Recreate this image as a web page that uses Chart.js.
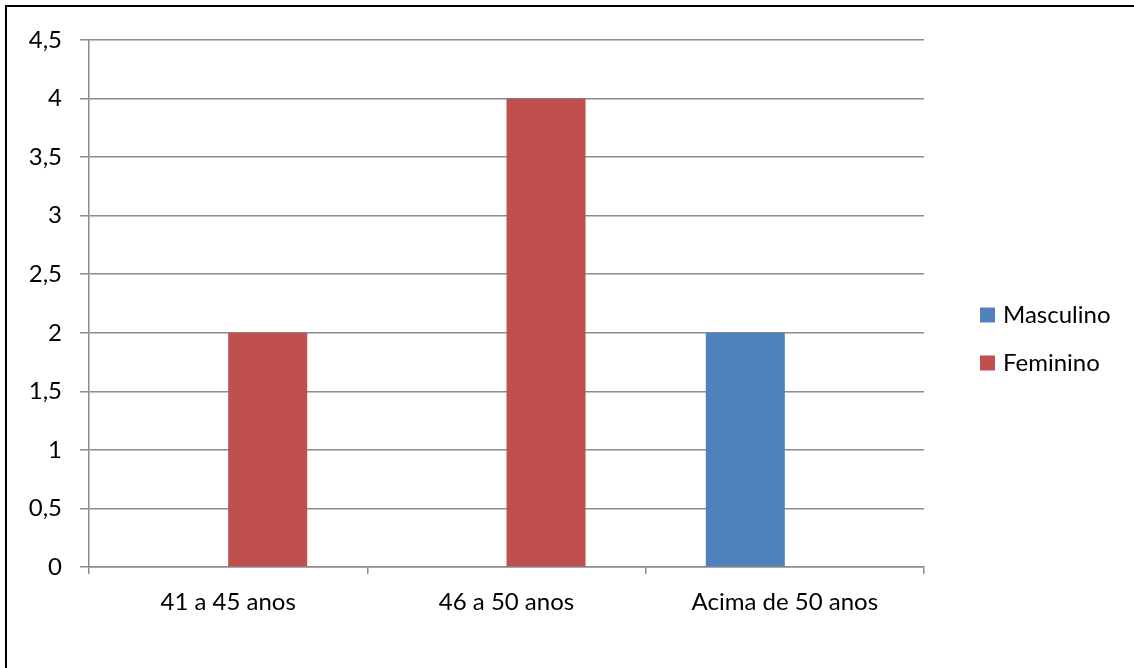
<!DOCTYPE html>
<html>
<head>
<meta charset="utf-8">
<script src="https://cdn.jsdelivr.net/npm/chart.js@4/dist/chart.umd.min.js"></script>
<style>
  html, body { margin: 0; padding: 0; background: #fff; }
  #wrap { position: relative; width: 1134px; height: 668px; overflow: hidden; }
  #frame { position: absolute; left: 5px; top: 5px; width: 1200px; height: 800px;
           border-left: 2px solid #000; border-top: 2px solid #000; }
  canvas { position: absolute; left: 0; top: 0; }
</style>
</head>
<body>
<div id="wrap">
  <div id="frame"></div>
  <canvas id="chart" width="1134" height="668"></canvas>
</div>
<script>
// Data
const categories = ['41 a 45 anos', '46 a 50 anos', 'Acima de 50 anos'];
const masculino = [0, 0, 2];
const feminino = [2, 4, 0];
const yTicks = ['0', '0,5', '1', '1,5', '2', '2,5', '3', '3,5', '4', '4,5'];

const FONT = 'Lato, "Open Sans", sans-serif';
const gridColor = '#8c8c8c';

// Legend drawn at the right, like the original
const sideLegend = {
    id: 'sideLegend',
    afterDraw(chart) {
        const ctx = chart.ctx;
        const items = chart.data.datasets;
        ctx.save();
        ctx.font = '24px ' + FONT;
        ctx.textBaseline = 'middle';
        ctx.textAlign = 'left';
        items.forEach((ds, i) => {
            const y = 315 + i * 48;
            ctx.fillStyle = ds.backgroundColor;
            ctx.fillRect(980, y - 7.5, 15, 15);
            ctx.fillStyle = '#000';
            ctx.fillText(ds.label, 1003, y);
        });
        ctx.restore();
    }
};

const ctx = document.getElementById('chart').getContext('2d');
const chart = new Chart(ctx, {
    type: 'bar',
    data: {
        labels: categories,
        datasets: [{
            label: 'Masculino',
            data: masculino,
            backgroundColor: '#4f81bd'
        }, {
            label: 'Feminino',
            data: feminino,
            backgroundColor: '#c0504d'
        }]
    },
    options: {
        responsive: false,
        animation: false,
        layout: { padding: { top: 40, right: 210, bottom: 0, left: 0 } },
        datasets: {
            bar: { categoryPercentage: 0.568, barPercentage: 1.0 }
        },
        plugins: {
            legend: { display: false },
            tooltip: { enabled: false }
        },
        scales: {
            x: {
                offset: true,
                afterFit: s => { s.height = 101; },
                grid: {
                    offset: true,
                    drawOnChartArea: false,
                    drawTicks: true,
                    tickLength: 7,
                    color: gridColor,
                    lineWidth: 1.5
                },
                border: { color: gridColor, width: 1.5 },
                ticks: {
                    color: '#000',
                    font: { family: FONT, size: 24 },
                    padding: 14,
                    maxRotation: 0
                }
            },
            y: {
                min: 0,
                max: 4.5,
                afterFit: s => { s.width = 89; },
                grid: {
                    color: gridColor,
                    lineWidth: 1.5,
                    tickLength: 9
                },
                border: { color: gridColor, width: 1.5 },
                ticks: {
                    stepSize: 0.5,
                    color: '#000',
                    font: { family: FONT, size: 24 },
                    padding: 18,
                    callback: (v, i) => yTicks[i]
                }
            }
        }
    },
    plugins: [sideLegend]
});
</script>
</body>
</html>
